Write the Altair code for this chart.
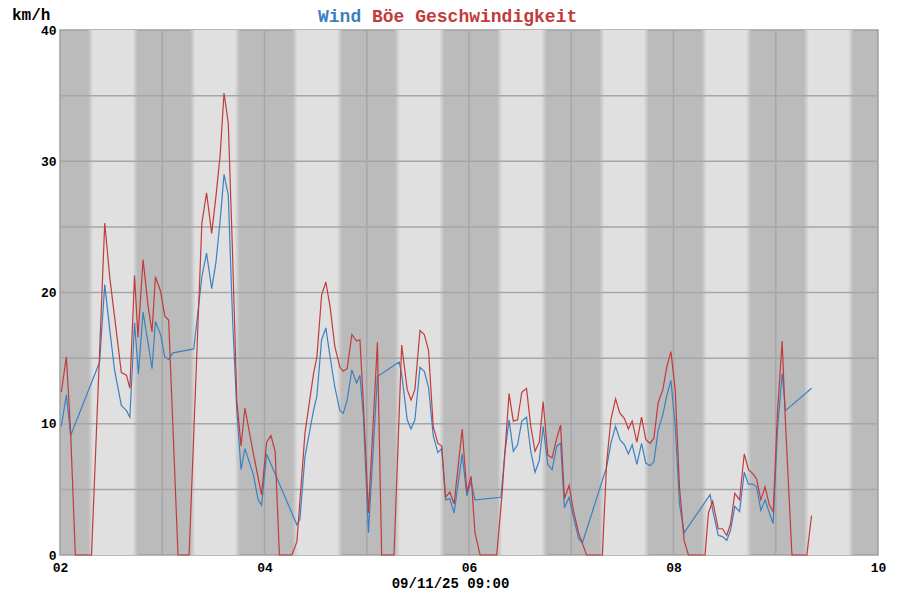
import altair as alt
import pandas as pd

# hours after 02 00:00, gust (Böe) values in km/h
gust_h = [0.3, 1.5, 2.5, 3.6, 7.4, 9.3, 10.5, 11.7, 14.4, 15.6,
          16.4, 17.5, 18.3, 19.5, 20.7, 21.6, 22.4, 23.6, 24.6, 25.5,
          27.7, 30.3, 33.3, 34.4, 35.6, 36.6, 37.6, 38.5, 39.5, 40.5,
          41.5, 42.5, 43.4, 45.4, 47.3, 48.5, 49.5, 50.5, 51.5, 54.4,
          55.6, 57.5, 59.5, 60.3, 61.4, 62.4, 63.4, 64.5, 65.7, 66.5,
          67.4, 68.5, 69.6, 70.4, 71.2, 72.4, 74.5, 75.5, 78.4, 80.2,
          81.5, 82.4, 83.3, 84.5, 85.5, 86.5, 87.6, 88.7, 89.6, 90.5,
          91.5, 92.5, 94.4, 95.5, 96.5, 97.4, 98.6, 102.5, 103.7, 104.4,
          105.4, 106.4, 107.4, 108.4, 109.5, 110.5, 111.5, 112.5, 113.4, 114.5,
          115.5, 116.6, 117.5, 118.4, 119.5, 120.5, 121.7, 123.6, 127.3, 128.3,
          129.3, 130.4, 131.4, 132.5, 133.4, 134.3, 135.4, 136.5, 137.5, 138.5,
          139.4, 140.4, 141.5, 142.4, 143.4, 144.4, 145.4, 146.5, 147.5, 151.4,
          152.2, 153.2, 154.5, 155.5, 156.5, 157.4, 158.4, 159.5, 160.6, 161.6,
          162.6, 163.5, 164.5, 165.5, 166.5, 167.4, 168.4, 169.5, 170.3, 171.8,
          175.3, 176.4]
gust_v = [12.4, 15.1, 9.3, 0, 0, 15.5, 25.3, 21.1, 13.9, 13.7,
          12.7, 21.3, 16.6, 22.5, 18.9, 17.0, 21.2, 20.1, 18.2, 17.9,
          0, 0, 25.3, 27.6, 24.5, 27.3, 30.5, 35.2, 32.9, 23.0,
          11.8, 8.3, 11.2, 7.7, 4.6, 8.6, 9.1, 7.9, 0, 0,
          1.0, 9.3, 13.8, 15.1, 19.8, 20.8, 18.9, 15.9, 14.3, 14.0,
          14.2, 16.8, 16.3, 16.4, 11.6, 3.2, 16.2, 0, 0, 16.0,
          12.6, 11.8, 12.6, 17.1, 16.8, 15.6, 9.8, 8.5, 8.3, 4.4,
          4.8, 3.9, 9.6, 4.8, 6.0, 1.7, 0, 0, 4.4, 7.7,
          12.3, 10.2, 10.3, 12.4, 12.7, 9.8, 7.9, 8.6, 11.7, 7.6,
          7.4, 8.9, 9.9, 4.3, 5.3, 3.4, 1.7, 0, 0, 7.0,
          10.3, 11.9, 10.8, 10.4, 9.6, 10.2, 8.6, 10.5, 8.8, 8.5,
          8.9, 11.6, 12.6, 14.3, 15.5, 12.6, 5.2, 1.1, 0, 0,
          3.2, 4.1, 2.0, 2.0, 1.5, 2.4, 4.7, 4.2, 7.7, 6.5,
          6.2, 5.8, 4.2, 5.2, 3.8, 3.3, 10.8, 16.3, 9.9, 0,
          0, 3.0]

# wind values (zero readings are not drawn)
wind_h = [0.3, 1.5, 2.5, 9.3, 10.5, 11.7, 12.8, 14.4, 15.6, 16.4,
          17.5, 18.4, 19.5, 20.6, 21.6, 22.4, 23.6, 24.6, 25.5, 26.5,
          31.4, 33.3, 34.4, 35.6, 36.6, 37.6, 38.5, 39.5, 40.5, 41.5,
          42.5, 43.4, 45.4, 46.5, 47.3, 48.5, 55.6, 56.3, 57.5, 59.5,
          60.3, 61.4, 62.4, 63.4, 64.5, 65.7, 66.5, 67.4, 68.5, 69.6,
          70.4, 71.2, 72.4, 74.5, 79.6, 80.2, 81.5, 82.4, 83.3, 84.5,
          85.5, 86.5, 87.6, 88.7, 89.6, 90.5, 91.5, 92.5, 94.4, 95.5,
          96.5, 97.4, 103.5, 104.4, 105.4, 106.4, 107.4, 108.4, 109.5, 110.5,
          111.5, 112.5, 113.4, 114.5, 115.5, 116.6, 117.5, 118.4, 119.5, 120.5,
          121.7, 122.6, 128.3, 129.3, 130.4, 131.4, 132.5, 133.4, 134.3, 135.4,
          136.5, 137.5, 138.5, 139.4, 140.4, 141.5, 142.4, 143.4, 144.4, 145.4,
          146.5, 152.6, 153.2, 154.5, 155.5, 156.5, 157.4, 158.4, 159.5, 160.6,
          161.6, 162.6, 163.5, 164.5, 165.5, 166.5, 167.4, 168.4, 169.5, 170.3,
          176.4]
wind_v = [9.8, 12.2, 9.1, 14.7, 20.6, 17.1, 14.1, 11.4, 11.0, 10.5,
          17.7, 13.8, 18.5, 16.3, 14.2, 17.8, 16.8, 15.1, 14.9, 15.4,
          15.7, 21.2, 23.0, 20.3, 22.3, 25.5, 29.0, 27.4, 18.0, 11.0,
          6.5, 8.1, 6.1, 4.2, 3.8, 7.7, 2.3, 2.7, 7.5, 11.0,
          12.1, 16.4, 17.3, 15.1, 12.8, 11.0, 10.8, 11.8, 14.1, 13.1,
          13.7, 10.6, 1.7, 13.6, 14.7, 13.8, 10.3, 9.6, 10.3, 14.3,
          14.0, 12.8, 9.1, 7.8, 8.1, 4.2, 4.3, 3.2, 7.7, 4.5,
          5.6, 4.2, 4.4, 7.7, 10.3, 7.9, 8.4, 10.2, 10.5, 7.9,
          6.3, 7.2, 9.8, 6.9, 6.5, 8.3, 8.5, 3.6, 4.4, 2.9,
          1.3, 0.9, 6.7, 8.5, 9.8, 8.8, 8.4, 7.7, 8.4, 6.9,
          8.5, 7.0, 6.8, 7.1, 9.5, 10.7, 12.1, 13.3, 9.8, 3.9,
          1.7, 4.6, 3.4, 1.5, 1.4, 1.1, 1.9, 3.7, 3.3, 6.3,
          5.4, 5.4, 5.2, 3.4, 4.2, 3.2, 2.4, 9.5, 13.8, 11.0,
          12.7]

day_labels = [2, 4, 6, 8, 10]
grid_days = [3, 4, 5, 6, 7, 8, 9]
y_labels = [0, 10, 20, 30, 40]
grid_y = [5, 10, 15, 20, 25, 30, 35]
light_days = [2, 3, 4, 5, 6, 7, 8, 9]
sunrise_h = 7.2
sunset_h = 17.6
twilight_h = 0.6

BLUE = "#3d80c2"
RED = "#c23b3b"
NIGHT = "#bbbbbb"
DAY = "#e0e0e0"
GRID = "#a6a6a6"
FONT = "Liberation Mono"

df_g = pd.DataFrame({"day": [2 + h / 24 for h in gust_h], "v": gust_v})
df_w = pd.DataFrame({"day": [2 + h / 24 for h in wind_h], "v": wind_v})
df_band = pd.DataFrame({
    "day": [d + (sunrise_h - twilight_h) / 24 for d in light_days],
    "day2": [d + (sunset_h + twilight_h) / 24 for d in light_days],
})

W, H = 818, 525
xs = alt.Scale(domain=[2, 10], nice=False, zero=False)
ys = alt.Scale(domain=[0, 40], nice=False)
xaxis = alt.Axis(values=day_labels, format="02d", labelFont=FONT, labelFontSize=13,
                 labelFontWeight="bold", labelColor="black", labelPadding=6,
                 labelFlush=False, ticks=False, domain=False, grid=False,
                 title="09/11/25 09:00", titleFont=FONT, titleFontSize=14,
                 titleFontWeight="bold", titleColor="black", titleX=390, titleY=32,
                 titleAlign="center", titleBaseline="alphabetic")
yaxis = alt.Axis(values=y_labels, labelFont=FONT, labelFontSize=13,
                 labelFontWeight="bold", labelColor="black", labelPadding=4,
                 labelFlush=False, ticks=False, domain=False, grid=False, title="")

frac = twilight_h * 2 / (sunset_h - sunrise_h + 2 * twilight_h)
grad = alt.LinearGradient(
    gradient="linear",
    stops=[alt.GradientStop(color=NIGHT, offset=0),
           alt.GradientStop(color=DAY, offset=frac),
           alt.GradientStop(color=DAY, offset=1 - frac),
           alt.GradientStop(color=NIGHT, offset=1)],
    x1=0, x2=1, y1=0, y2=0)

bands = alt.Chart(df_band).mark_rect(color=grad, strokeWidth=0).encode(
    x=alt.X("day:Q", scale=xs, axis=xaxis), x2="day2:Q",
    y=alt.value(0), y2=alt.value(H))

vgrid = alt.Chart(pd.DataFrame({"day": grid_days})).mark_rule(
    color=GRID, strokeWidth=1.5).encode(x=alt.X("day:Q", scale=xs, axis=xaxis))
hgrid = alt.Chart(pd.DataFrame({"v": grid_y})).mark_rule(
    color=GRID, strokeWidth=1.5).encode(y=alt.Y("v:Q", scale=ys, axis=yaxis))

wind_line = alt.Chart(df_w).mark_line(color=BLUE, strokeWidth=1.2).encode(
    x=alt.X("day:Q", scale=xs, axis=xaxis), y=alt.Y("v:Q", scale=ys, axis=yaxis))
gust_line = alt.Chart(df_g).mark_line(color=RED, strokeWidth=1.2).encode(
    x=alt.X("day:Q", scale=xs, axis=xaxis), y=alt.Y("v:Q", scale=ys, axis=yaxis))

t1 = alt.Chart(pd.DataFrame({"t": ["Wind"]})).mark_text(
    font=FONT, fontSize=18, fontWeight="bold", color=BLUE, align="left",
    baseline="alphabetic").encode(text="t:N", x=alt.value(258), y=alt.value(-8))
t2 = alt.Chart(pd.DataFrame({"t": ["Böe Geschwindigkeit"]})).mark_text(
    font=FONT, fontSize=18, fontWeight="bold", color=RED, align="left",
    baseline="alphabetic").encode(text="t:N", x=alt.value(312), y=alt.value(-8))
t3 = alt.Chart(pd.DataFrame({"t": ["km/h"]})).mark_text(
    font=FONT, fontSize=16, fontWeight="bold", color="black", align="left",
    baseline="alphabetic").encode(text="t:N", x=alt.value(-48), y=alt.value(-10))

chart = alt.layer(bands, vgrid, hgrid, wind_line, gust_line, t1, t2, t3).properties(
    width=W, height=H,
    padding={"left": 52, "top": 22, "right": 10, "bottom": 37},
    autosize=alt.AutoSizeParams(type="none"),
    background="white",
).configure_view(fill=NIGHT, stroke="#a0a0a0", strokeWidth=1.5)

chart.save("out.html", embed_options={"renderer": "svg", "actions": False})
